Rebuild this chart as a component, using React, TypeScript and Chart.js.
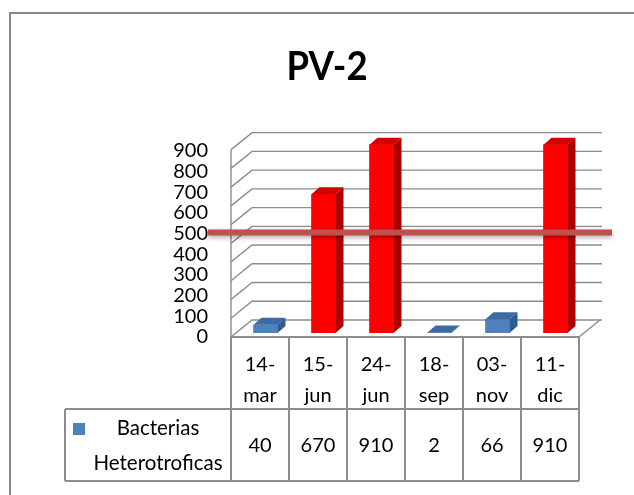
import React, { useEffect, useRef } from "react";
import { Chart, registerables } from "chart.js";

Chart.register(...registerables);

const chartTitle = "PV-2";
const seriesName = ["Bacterias", "Heterotroficas"];
const categories = ["14-mar", "15-jun", "24-jun", "18-sep", "03-nov", "11-dic"];
const values = [40, 670, 910, 2, 66, 910];
const axisMax = 1000;
const axisStep = 100;
const hiddenTickLabels = [1000];
const limitValue = 485;

const BLUE = { front: "#4f81bd", top: "#3d6aa3", side: "#2f5b90" };
const RED = { front: "#ff0000", top: "#d40000", side: "#ab0000" };
const GRID = "#8c8c8c";
const FONT = "Lato, 'Liberation Sans', sans-serif";
const TITLE_FONT = "Lato, 'Liberation Sans', sans-serif";

const pal = (v: number) => (v > limitValue ? RED : BLUE);

const excel3d = {
  id: "excel3d",
  beforeDraw(chart: any) {
    const ctx = chart.ctx;
    ctx.save();
    ctx.fillStyle = "#ffffff";
    ctx.fillRect(0, 0, chart.width, chart.height);
    ctx.strokeStyle = "#888888";
    ctx.lineWidth = 2;
    ctx.strokeRect(10, 13, 1000, 1000);
    ctx.restore();
  },
  beforeDatasetsDraw(chart: any) {
    const ctx = chart.ctx;
    const ys = chart.scales.y;
    const { left, right } = chart.chartArea;
    const p0 = ys.getPixelForValue(0);
    const frontBase = p0 + 4;
    const k = 0.905;
    const dx = 21;
    const dy = -17;
    const backRight = right + 23;
    ctx.save();
    ctx.strokeStyle = GRID;
    ctx.lineWidth = 1.4;
    const fy = (v: number) => frontBase + (ys.getPixelForValue(v) - p0) * k;
    ys.ticks.forEach((t: any) => {
      const yf = fy(t.value);
      ctx.beginPath();
      ctx.moveTo(left, yf);
      ctx.lineTo(left + dx, yf + dy);
      ctx.lineTo(backRight, yf + dy);
      ctx.stroke();
    });
    ctx.beginPath();
    ctx.moveTo(left, fy(axisMax));
    ctx.lineTo(left, frontBase);
    ctx.moveTo(right, frontBase);
    ctx.lineTo(right + dx, frontBase + dy);
    ctx.stroke();
    ctx.restore();

    ctx.save();
    ctx.translate(5.5, 0);
  },
  afterDatasetsDraw(chart: any) {
    const ctx = chart.ctx;
    const meta = chart.getDatasetMeta(0);
    const d = 8;
    const e = -7;
    meta.data.forEach((el: any, i: number) => {
      const { x, y, base, width } = el.getProps(["x", "y", "base", "width"], true);
      const l = x - width / 2;
      const r = x + width / 2;
      const c = pal(values[i]);
      ctx.fillStyle = c.top;
      ctx.beginPath();
      ctx.moveTo(l, y);
      ctx.lineTo(l + d, y + e);
      ctx.lineTo(r + d, y + e);
      ctx.lineTo(r, y);
      ctx.closePath();
      ctx.fill();
      ctx.fillStyle = c.side;
      ctx.beginPath();
      ctx.moveTo(r, y);
      ctx.lineTo(r + d, y + e);
      ctx.lineTo(r + d, base + e);
      ctx.lineTo(r, base);
      ctx.closePath();
      ctx.fill();
    });
    ctx.restore();
  },
  afterDraw(chart: any) {
    const ctx = chart.ctx;
    const ys = chart.scales.y;
    const xs = chart.scales.x;
    const { left, right } = chart.chartArea;
    const top = Math.round(ys.getPixelForValue(0) + 4);
    const headerH = 72;
    const rowH = 72;
    const tableLeft = 65;
    const colW = (right - left) / categories.length;

    // title
    ctx.save();
    ctx.fillStyle = "#000";
    ctx.font = `bold 41px ${TITLE_FONT}`;
    ctx.textAlign = "center";
    ctx.textBaseline = "alphabetic";
    ctx.translate(327, 80);
    ctx.scale(0.89, 1);
    ctx.fillText(chartTitle, 0, 0);
    ctx.restore();

    // table grid
    ctx.save();
    ctx.strokeStyle = GRID;
    ctx.lineWidth = 2;
    ctx.beginPath();
    ctx.moveTo(left, top);
    ctx.lineTo(right, top);
    ctx.moveTo(tableLeft, top + headerH);
    ctx.lineTo(right, top + headerH);
    ctx.moveTo(tableLeft, top + headerH + rowH);
    ctx.lineTo(right, top + headerH + rowH);
    ctx.moveTo(tableLeft, top + headerH);
    ctx.lineTo(tableLeft, top + headerH + rowH);
    for (let i = 0; i <= categories.length; i++) {
      const cx = i < categories.length ? xs.getPixelForValue(i) - colW / 2 : xs.getPixelForValue(i - 1) + colW / 2;
      ctx.moveTo(cx, top);
      ctx.lineTo(cx, top + headerH + rowH);
    }
    ctx.stroke();

    // header text
    ctx.fillStyle = "#000";
    ctx.font = `20px ${FONT}`;
    ctx.textAlign = "center";
    ctx.textBaseline = "alphabetic";
    categories.forEach((c, i) => {
      const cx = xs.getPixelForValue(i);
      const parts = c.split("-");
      ctx.fillText(parts[0] + "-", cx, top + 34);
      ctx.fillText(parts[1], cx, top + 65);
      ctx.fillText(String(values[i]), cx, top + headerH + 43);
    });

    // row header
    ctx.fillStyle = BLUE.front;
    ctx.fillRect(73, top + headerH + 14, 12, 12);
    ctx.fillStyle = "#000";
    const nameX = (85 + left) / 2;
    ctx.font = `20.5px ${FONT}`;
    ctx.fillText(seriesName[0], nameX, top + headerH + 26);
    ctx.fillText(seriesName[1], nameX, top + headerH + 61);
    ctx.restore();

    // limit line
    const ly = ys.getPixelForValue(limitValue);
    ctx.save();
    ctx.shadowColor = "rgba(0,0,0,0.35)";
    ctx.shadowBlur = 5;
    ctx.shadowOffsetY = 2;
    ctx.strokeStyle = "#c0504d";
    ctx.lineWidth = 6;
    ctx.beginPath();
    ctx.moveTo(left - 23, ly);
    ctx.lineTo(right + 33, ly);
    ctx.stroke();
    ctx.restore();
  },
};

export default function App() {
  const ref = useRef<HTMLCanvasElement>(null);
  useEffect(() => {
    if (!ref.current) return;
    const chart = new Chart(ref.current, {
      type: "bar",
      data: {
        labels: categories,
        datasets: [
          {
            label: seriesName.join(" "),
            data: values,
            backgroundColor: values.map((v) => pal(v).front),
            borderWidth: 0,
            barThickness: 24,
          },
        ],
      },
      options: {
        responsive: false,
        animation: false,
        layout: { padding: { top: 126, bottom: 162, right: 55, left: 0 } },
        plugins: {
          legend: { display: false },
          tooltip: { enabled: false },
          title: { display: false },
        },
        scales: {
          x: { type: "category", display: false, offset: true },
          y: {
            min: 0,
            max: axisMax,
            border: { display: false },
            grid: { display: false, drawTicks: false },
            afterFit: (s: any) => {
              s.width = 231;
            },
            ticks: {
              stepSize: axisStep,
              autoSkip: false,
              padding: 23,
              labelOffset: 4,
              color: "#000",
              font: { family: FONT, size: 20 },
              callback: (v: any) => (hiddenTickLabels.includes(Number(v)) ? "" : String(v)),
            },
          },
        },
      },
      plugins: [excel3d],
    });
    return () => chart.destroy();
  }, []);
  return (
    <div style={{ position: "absolute", left: 0, top: 0, width: 634, height: 495 }}>
      <canvas ref={ref} width={634} height={495} />
    </div>
  );
}
